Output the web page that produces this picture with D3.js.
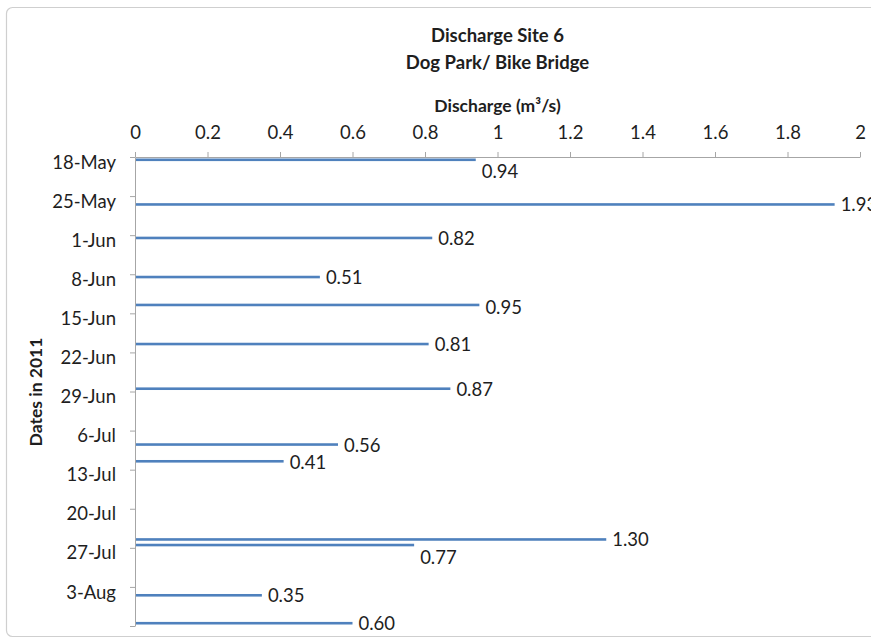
<!DOCTYPE html>
<html>
<head>
<meta charset="utf-8">
<script src="https://cdn.jsdelivr.net/npm/d3@7"></script>
<style>
  html, body { margin: 0; padding: 0; background: #ffffff; }
  svg { display: block; }
  text { font-family: Lato, "Open Sans", sans-serif; fill: #1e1e1e; }
</style>
</head>
<body>
<script>
// ---- data ----
const dates = ["18-May", "26-May", "1-Jun", "8-Jun", "13-Jun", "20-Jun", "28-Jun",
               "8-Jul", "11-Jul", "25-Jul", "26-Jul", "4-Aug", "9-Aug"];
const discharge = [0.94, 1.93, 0.82, 0.51, 0.95, 0.81, 0.87, 0.56, 0.41, 1.30, 0.77, 0.35, 0.60];
const dateTicks = ["18-May", "25-May", "1-Jun", "8-Jun", "15-Jun", "22-Jun", "29-Jun",
                   "6-Jul", "13-Jul", "20-Jul", "27-Jul", "3-Aug", "10-Aug"];
const xTicks = [0, 0.2, 0.4, 0.6, 0.8, 1, 1.2, 1.4, 1.6, 1.8, 2];
const titleLines = ["Discharge Site 6", "Dog Park/ Bike Bridge"];
const xTitle = "Discharge (m³/s)";
const yTitle = "Dates in 2011";
// label nudges (Excel placed two labels below their bars)
const labelShift = [11, 0, 0, 0, 2, 0, 0, 0, 1, 0, 12, 0, 0];

// ---- layout ----
const W = 871, H = 639;
const pLeft = 135, pRight = 860, pTop = 157, pBottom = 626;
const parse = d3.utcParse("%d-%b-%Y");
const toDate = s => parse(s + "-2011");

const svg = d3.select("body").append("svg").attr("width", W).attr("height", H);

// frame
svg.append("rect").attr("x", 6.5).attr("y", 7.5).attr("width", 880).attr("height", 629)
  .attr("rx", 6).attr("fill", "#fff").attr("stroke", "#cfcfcf").attr("stroke-width", 1.2);

const x = d3.scaleLinear().domain([0, 2]).range([pLeft, pRight]);
const y = d3.scaleUtc().domain([toDate("18-May"), toDate("10-Aug")]).range([pTop, pBottom]);
const halfDay = (y(toDate("19-May")) - y(toDate("18-May"))) / 2;

// titles
svg.selectAll("text.title").data(titleLines).join("text").attr("class", "title")
  .attr("x", (pLeft + pRight) / 2).attr("y", (d, i) => 42 + i * 27)
  .attr("text-anchor", "middle").attr("font-weight", "bold").attr("font-size", 18.5)
  .text(d => d);

svg.append("text").attr("x", (pLeft + pRight) / 2).attr("y", 112)
  .attr("text-anchor", "middle").attr("font-weight", "bold").attr("font-size", 17.5)
  .text(xTitle);

svg.append("text")
  .attr("transform", `translate(42,392) rotate(-90)`)
  .attr("text-anchor", "middle").attr("font-weight", "bold").attr("font-size", 17.5)
  .text(yTitle);

// x axis (top)
const xAxis = d3.axisTop(x).tickValues(xTicks).tickSize(5).tickSizeOuter(0)
  .tickFormat(d => d3.format("")(+d.toFixed(1)));
const gx = svg.append("g").attr("transform", `translate(0,${pTop})`).call(xAxis);
gx.select(".domain").attr("stroke", "#a6a6a6");
gx.selectAll(".tick line").attr("stroke", "#a6a6a6");
gx.selectAll(".tick text").attr("font-size", 18.5).attr("fill", "#1e1e1e")
  .attr("font-family", "Lato, sans-serif").attr("dy", 0).attr("y", -18);

// y axis (left)
const tickDates = dateTicks.map(toDate);
const yAxis = d3.axisLeft(y).tickValues(tickDates).tickSize(5).tickSizeOuter(0)
  .tickFormat((d, i) => i < dateTicks.length - 1 ? dateTicks[i] : "");
const gy = svg.append("g").attr("transform", `translate(${pLeft},0)`).call(yAxis);
gy.select(".domain").attr("stroke", "#a6a6a6");
gy.selectAll(".tick line").attr("stroke", "#a6a6a6");
gy.selectAll(".tick text").attr("font-size", 18.5).attr("fill", "#1e1e1e")
  .attr("font-family", "Lato, sans-serif").attr("x", -19).attr("dy", "0.6em");

// bars
const rows = dates.map((d, i) => ({ date: toDate(d), v: discharge[i], shift: labelShift[i] }));
svg.selectAll("rect.bar").data(rows).join("rect").attr("class", "bar")
  .attr("x", x(0) + 1)
  .attr("y", d => y(d.date) + halfDay - 1.3)
  .attr("width", d => x(d.v) - x(0) - 1)
  .attr("height", 2.6)
  .attr("fill", "#4f81bd");

// labels
svg.selectAll("text.lbl").data(rows).join("text").attr("class", "lbl")
  .attr("x", d => x(d.v) + 6)
  .attr("y", d => y(d.date) + halfDay + d.shift)
  .attr("dy", "0.38em").attr("font-size", 18.5)
  .text(d => d.v.toFixed(2));
</script>
</body>
</html>
